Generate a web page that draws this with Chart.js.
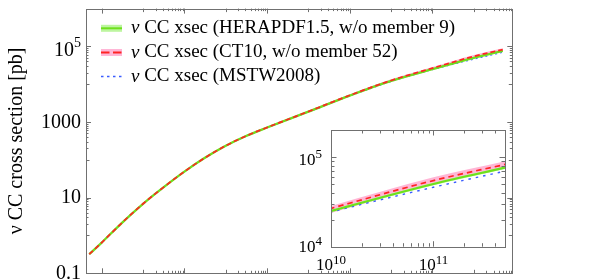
<!DOCTYPE html>
<html><head><meta charset="utf-8">
<script src="https://cdn.jsdelivr.net/npm/chart.js@4.4.1/dist/chart.umd.min.js"></script>
<style>
html,body{margin:0;padding:0;background:#fff;}
#wrap{position:relative;width:598px;height:280px;overflow:hidden;background:#fff;}
#main{position:absolute;left:0;top:0;}
#inset{position:absolute;left:290px;top:120px;}
</style></head><body>
<div id="wrap"><canvas id="main" width="598" height="280"></canvas><canvas id="inset" width="225" height="158"></canvas></div>
<script>
// ---- data (neutrino energy in GeV, cross sections in pb) ----
const energies    = [50, 100, 300, 1e3, 3e3, 1e4, 3e4, 1e5, 3e5, 1e6, 1e7, 1e8, 1e9, 1e10, 1e11, 5e11];
const heraCentral = [0.32, 0.65, 2.1, 6.9, 18.2, 49, 110, 236, 420, 715, 1880, 5000, 12200, 25000, 50000, 76000];
const heraLower   = [0.31, 0.63, 2.04, 6.7, 17.7, 47.5, 107, 229, 408, 694, 1825, 4850, 11830, 24200, 48400, 73500];
const heraUpper   = [0.33, 0.67, 2.16, 7.1, 18.7, 50.5, 113, 243, 432, 736, 1935, 5150, 12570, 25800, 51600, 78500];
const ct10Central = [0.32, 0.65, 2.1, 6.9, 18.2, 49, 110, 237, 422, 720, 1900, 5100, 12600, 26700, 54600, 82600];
const ct10Lower   = [0.31, 0.63, 2.03, 6.65, 17.5, 47, 105, 226, 400, 680, 1780, 4750, 11600, 23800, 49500, 74500];
const ct10Upper   = [0.33, 0.67, 2.17, 7.15, 18.9, 51, 115, 248, 444, 760, 2020, 5450, 13600, 28500, 59500, 89500];
const mstwCentral = [0.32, 0.65, 2.1, 6.9, 18.2, 49, 110, 235, 415, 705, 1840, 4880, 11800, 24300, 46000, 69500];

const seriesNames = ['ν CC xsec (HERAPDF1.5, w/o member 9)', 'ν CC xsec (CT10, w/o member 52)', 'ν CC xsec (MSTW2008)'];
const yAxisTitle = 'ν CC cross section [pb]';

const mainYTicks = [0.1, 10, 1000, 1e5];
const mainYTickLabels = ['0.1', '10', '1000', '10^5'];
const insetXTicks = [1e10, 1e11];
const insetXTickLabels = ['10^10', '10^11'];
const insetYTicks = [1e4, 1e5];
const insetYTickLabels = ['10^4', '10^5'];

// ---- styling ----
const SERIF = '"Liberation Serif", "Times New Roman", Times, serif';
const FRAME = '#707070';
const GREEN = '#6ee01c', GREEN_BAND = '#bdf5a0';
const RED = '#ff2424', PINK = '#ffb6d6';
const BLUE = '#3a5cff';
const CLEAR = 'rgba(0,0,0,0)';

function pts(vals){ return energies.map((e,i)=>({x:e, y:vals[i]})); }

function makeDatasets(redDash, blueDash, greenW, blueW){
  return [
    {label: seriesNames[1], data: pts(ct10Central), borderColor: RED, borderWidth: 1.7, borderDash: redDash, fill: false, order: 0},
    {label: seriesNames[0], data: pts(heraCentral), borderColor: GREEN, borderWidth: greenW, fill: false, order: 1},
    {label: seriesNames[2], data: pts(mstwCentral), borderColor: BLUE, borderWidth: blueW, borderDash: blueDash, fill: false, order: 2},
    {label: 'HERAPDF band', data: pts(heraUpper), borderColor: CLEAR, borderWidth: 0, backgroundColor: GREEN_BAND, fill: 4, order: 3},
    {label: 'HERAPDF band low', data: pts(heraLower), borderColor: CLEAR, borderWidth: 0, fill: false, order: 4},
    {label: 'CT10 band', data: pts(ct10Upper), borderColor: CLEAR, borderWidth: 0, backgroundColor: PINK, fill: 6, order: 5},
    {label: 'CT10 band low', data: pts(ct10Lower), borderColor: CLEAR, borderWidth: 0, fill: false, order: 6}
  ];
}

function parseLab(s){
  const i = s.indexOf('^');
  return i < 0 ? {base: s, exp: ''} : {base: s.slice(0,i), exp: s.slice(i+1)};
}
function drawLabel(ctx, s, x, y, align, baseSize, supSize, raise){
  const lab = parseLab(s);
  ctx.fillStyle = '#000';
  ctx.textBaseline = 'middle';
  const bf = baseSize + 'px ' + SERIF, sf = supSize + 'px ' + SERIF;
  ctx.font = bf; const wb = ctx.measureText(lab.base).width;
  ctx.font = sf; const ws = lab.exp ? ctx.measureText(lab.exp).width : 0;
  const tot = wb + ws;
  const x0 = align === 'right' ? x - tot : (align === 'center' ? x - tot/2 : x);
  ctx.textAlign = 'left';
  ctx.font = bf; ctx.fillText(lab.base, x0, y);
  if (lab.exp){ ctx.font = sf; ctx.fillText(lab.exp, x0 + wb, y - raise); }
}

function tickLine(ctx, x1, y1, x2, y2){
  ctx.beginPath(); ctx.moveTo(x1, y1); ctx.lineTo(x2, y2); ctx.stroke();
}

// draws inward ticks on all four sides of a frame
function drawFrameTicks(ctx, chart, xT, yT){
  const a = chart.chartArea, sx = chart.scales.x, sy = chart.scales.y;
  ctx.save();
  ctx.strokeStyle = FRAME; ctx.lineWidth = 1;
  xT.forEach(t => {
    const p = Math.round(sx.getPixelForValue(t.v)) + 0.5;
    if (p < a.left - 0.5 || p > a.right + 0.5) return;
    tickLine(ctx, p, a.bottom, p, a.bottom - t.len);
    tickLine(ctx, p, a.top, p, a.top + t.len);
  });
  yT.forEach(t => {
    const p = Math.round(sy.getPixelForValue(t.v)) + 0.5;
    if (p < a.top - 0.5 || p > a.bottom + 0.5) return;
    tickLine(ctx, a.left, p, a.left + t.len, p);
    tickLine(ctx, a.right, p, a.right - t.len, p);
  });
  ctx.strokeRect(Math.round(a.left) + 0.5, Math.round(a.top) + 0.5,
                 Math.round(a.right) - Math.round(a.left), Math.round(a.bottom) - Math.round(a.top));
  ctx.restore();
}

// ---- main chart ----
const mainXTickList = [];
[2,4,6,8,10,12].forEach(k => mainXTickList.push({v: Math.pow(10,k), len: 5}));
[3,5,7,9,11].forEach(k => { for (let m=1; m<=9; m++) mainXTickList.push({v: m*Math.pow(10,k), len: m===1 ? 3.5 : 2.5}); });
const mainYTickList = [];
[-1,1,3,5].forEach(k => mainYTickList.push({v: Math.pow(10,k), len: 5}));
[0,2,4,6].forEach(k => { for (let m=1; m<=9; m++) mainYTickList.push({v: m*Math.pow(10,k), len: m===1 ? 3.5 : 2.5}); });

const mainDecor = {
  id: 'mainDecor',
  afterDraw(chart){
    const ctx = chart.ctx, sy = chart.scales.y;
    drawFrameTicks(ctx, chart, mainXTickList, mainYTickList);
    mainYTicks.forEach((v,i) => {
      const y = sy.getPixelForValue(v);
      const lab = mainYTickLabels[i];
      drawLabel(ctx, lab, 81, y + (lab.indexOf('^') >= 0 ? 4 : 0.5), 'right', 20, 14, 7);
    });
    // legend
    ctx.save();
    const rows = [28.3, 52.5, 76.5];
    const x1 = 101, x2 = 122, tx = 131;
    ctx.fillStyle = GREEN_BAND; ctx.fillRect(x1, rows[0]-3.5, x2-x1, 7);
    ctx.strokeStyle = GREEN; ctx.lineWidth = 2; ctx.setLineDash([]);
    tickLine(ctx, x1, rows[0], x2, rows[0]);
    ctx.fillStyle = PINK; ctx.fillRect(x1, rows[1]-3.5, x2-x1, 7);
    ctx.strokeStyle = RED; ctx.lineWidth = 2; ctx.setLineDash([8.5,3.5]);
    tickLine(ctx, x1, rows[1], x2, rows[1]);
    ctx.strokeStyle = BLUE; ctx.lineWidth = 1.4; ctx.setLineDash([2.5,3.5]);
    tickLine(ctx, x1, rows[2], x2, rows[2]);
    ctx.setLineDash([]);
    ctx.fillStyle = '#000'; ctx.textBaseline = 'middle'; ctx.textAlign = 'left';
    seriesNames.forEach((name, i) => {
      const nu = name.slice(0,1), rest = name.slice(1);
      ctx.font = 'italic 19px ' + SERIF;
      ctx.fillText(nu, tx, rows[i]);
      const w = ctx.measureText(nu).width;
      ctx.font = '19px ' + SERIF;
      ctx.fillText(rest, tx + w, rows[i]);
    });
    ctx.restore();
  }
};

new Chart(document.getElementById('main'), {
  type: 'line',
  data: {datasets: makeDatasets([5,3], [2,3], 2.3, 1.1)},
  options: {
    responsive: false, animation: false, devicePixelRatio: 1,
    layout: {padding: {left: 0, top: 8.6, right: 598 - 512.3, bottom: 0}},
    elements: {point: {radius: 0, hoverRadius: 0}, line: {cubicInterpolationMode: 'monotone'}},
    plugins: {legend: {display: false}, tooltip: {enabled: false}, filler: {propagate: false}},
    events: [],
    scales: {
      x: {type: 'logarithmic', min: Math.pow(10,1.62), max: Math.pow(10,11.93), position: 'bottom',
          grid: {display: false, drawTicks: false}, border: {display: false}, ticks: {display: false},
          afterFit(s){ s.height = 280 - 273.3; }},
      y: {type: 'logarithmic', min: 0.1, max: 1e6, position: 'left',
          grid: {display: false, drawTicks: false}, border: {display: false}, ticks: {display: false},
          title: {display: true, text: yAxisTitle, color: '#000', font: {family: SERIF, size: 20}, padding: {top: 5, bottom: 0}},
          afterFit(s){ s.width = 86; }}
    }
  },
  plugins: [mainDecor]
});

// ---- inset chart ----
const insetXTickList = [];
[10,11].forEach(k => insetXTickList.push({v: Math.pow(10,k), len: 5.5}));
[10,11].forEach(k => { for (let m=2; m<=9; m++) insetXTickList.push({v: m*Math.pow(10,k), len: 3.5}); });
const insetYTickList = [];
[4,5].forEach(k => insetYTickList.push({v: Math.pow(10,k), len: 5.5}));
[4,5].forEach(k => { for (let m=2; m<=9; m++) insetYTickList.push({v: m*Math.pow(10,k), len: 3.5}); });

const insetDecor = {
  id: 'insetDecor',
  beforeDatasetsDraw(chart){
    const ctx = chart.ctx, a = chart.chartArea;
    ctx.save(); ctx.fillStyle = '#fff';
    ctx.fillRect(a.left, a.top, a.right - a.left, a.bottom - a.top);
    ctx.restore();
  },
  afterDraw(chart){
    const ctx = chart.ctx, a = chart.chartArea, sx = chart.scales.x, sy = chart.scales.y;
    drawFrameTicks(ctx, chart, insetXTickList, insetYTickList);
    insetYTicks.forEach((v,i) => {
      const y = sy.getPixelForValue(v);
      drawLabel(ctx, insetYTickLabels[i], a.left - 9, y + (i === 0 ? 1 : 3.3), 'right', 17, 13, 6);
    });
    insetXTicks.forEach((v,i) => {
      const x = sx.getPixelForValue(v);
      drawLabel(ctx, insetXTickLabels[i], x, a.bottom + 19, 'center', 17, 13, 5);
    });
  }
};

new Chart(document.getElementById('inset'), {
  type: 'line',
  data: {datasets: makeDatasets([5.5,4], [2.5,5], 2.2, 1.4)},
  options: {
    responsive: false, animation: false, devicePixelRatio: 1,
    layout: {padding: {left: 0, top: 10, right: 10, bottom: 0}},
    elements: {point: {radius: 0, hoverRadius: 0}, line: {cubicInterpolationMode: 'monotone'}},
    plugins: {legend: {display: false}, tooltip: {enabled: false}, filler: {propagate: false}},
    events: [],
    scales: {
      x: {type: 'logarithmic', min: 1e10, max: 5e11, position: 'bottom',
          grid: {display: false, drawTicks: false}, border: {display: false}, ticks: {display: false},
          afterFit(s){ s.height = 158 - 126.7; }},
      y: {type: 'logarithmic', min: 1e4, max: 2e5, position: 'left',
          grid: {display: false, drawTicks: false}, border: {display: false}, ticks: {display: false},
          afterFit(s){ s.width = 41; }}
    }
  },
  plugins: [insetDecor]
});
</script>
</body></html>
